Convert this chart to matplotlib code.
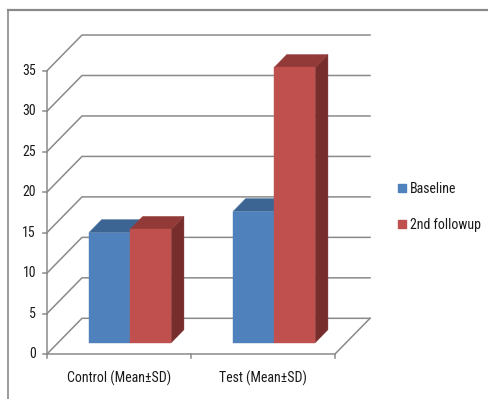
import matplotlib
matplotlib.use('Agg')
import matplotlib.pyplot as plt
from matplotlib import font_manager
from matplotlib.patches import Polygon, Patch
from matplotlib.lines import Line2D

categories = ['Control (Mean±SD)', 'Test (Mean±SD)']
series_names = ['Baseline', '2nd followup']
baseline = [13.6, 16.2]
followup = [14.0, 34.0]
y_ticks = [0, 5, 10, 15, 20, 25, 30, 35]

front_colors = ['#4f81bd', '#c0504d']
top_colors = ['#3c6594', '#923a37']
side_colors = ['#30527a', '#772d2b']
grid_color = '#8a8a8a'
text_color = '#1a1a1a'

# prefer a narrow sans; Lato at a smaller size otherwise
installed = {f.name for f in font_manager.fontManager.ttflist}
fsize = 9.2
family = 'Lato'
for name in ['Liberation Sans Narrow', 'Roboto Condensed', 'Open Sans Condensed']:
    if name in installed:
        family, fsize = name, 10.0
        break
plt.rcParams['font.family'] = [family, 'DejaVu Sans']

# oblique depth of the floor (category units, value units)
DX = 0.243
DY = 4.41
# the bars fill the middle slice of the depth
Z0, Z1 = 0.317, 0.68
GAP = 1.5  # gap between clusters, in bar widths

fig = plt.figure(figsize=(4.89, 3.99), dpi=100)
ax = fig.add_axes([0, 0, 1, 1])
# 144 px per category, ~8.1 px per value unit, origin at (47, 354) px
px_x = 144.0
px_y = 8.094
ax.set_xlim(-47 / px_x, (489 - 47) / px_x)
ax.set_ylim(-(399 - 354) / px_y, 354 / px_y)
ax.axis('off')


def proj(x, y, z):
    return (x + z * DX, y + z * DY)


n_cat = len(categories)

# walls: diagonal on the side wall, horizontal on the back wall
for t in y_ticks:
    pts = [proj(0, t, 0), proj(0, t, 1), proj(n_cat, t, 1)]
    ax.plot([p[0] for p in pts], [p[1] for p in pts], color=grid_color, lw=1.1,
            solid_joinstyle='miter', zorder=1)
    # tick mark + label
    ax.plot([-4 / px_x, 0], [t, t], color=grid_color, lw=1.1, zorder=1)
    ax.text(-11 / px_x, t, str(t), ha='right', va='center', fontsize=fsize,
            color=text_color)

# floor outline and axis lines
floor = [proj(0, 0, 0), proj(n_cat, 0, 0), proj(n_cat, 0, 1)]
ax.plot([p[0] for p in floor], [p[1] for p in floor], color=grid_color, lw=1.1,
        solid_joinstyle='miter', zorder=1)
ax.plot([0, 0], [0, y_ticks[-1]], color=grid_color, lw=1.1, zorder=1)
for i in range(n_cat + 1):
    ax.plot([i, i], [0, -4 / px_y], color=grid_color, lw=1.1, zorder=1)

# bars, drawn left to right so each side face hides behind the next bar
w = 1.0 / (2 + GAP)
for i in range(n_cat):
    for j, vals in enumerate([baseline, followup]):
        v = vals[i]
        x0 = i + GAP / 2 * w + j * w
        x1 = x0 + w
        front = [proj(x0, 0, Z0), proj(x1, 0, Z0), proj(x1, v, Z0), proj(x0, v, Z0)]
        top = [proj(x0, v, Z0), proj(x1, v, Z0), proj(x1, v, Z1), proj(x0, v, Z1)]
        side = [proj(x1, 0, Z0), proj(x1, 0, Z1), proj(x1, v, Z1), proj(x1, v, Z0)]
        for poly, col in [(side, side_colors[j]), (top, top_colors[j]),
                          (front, front_colors[j])]:
            ax.add_patch(Polygon(poly, closed=True, facecolor=col,
                                 edgecolor=col, lw=0.3, zorder=3 + i * 2 + j))

for i, name in enumerate(categories):
    ax.text(i + 0.5, -24 / px_y, name, ha='center', va='center', fontsize=fsize,
            color=text_color)

handles = [Patch(facecolor=c, edgecolor=c) for c in front_colors]
fig.legend(handles, series_names, loc='center left',
           bbox_to_anchor=(398 / 489, 1 - 207 / 399), frameon=False,
           borderpad=0, borderaxespad=0,
           handlelength=0.55, handleheight=0.55, handletextpad=0.3,
           labelspacing=1.6, fontsize=fsize, labelcolor=text_color)

# chart area border (top and left edges)
bx, by = 8 / 489, 1 - 10 / 399
fig.add_artist(Line2D([bx, 1], [by, by], color='#8a8a8a', lw=1.6))
fig.add_artist(Line2D([bx, bx], [by, 0], color='#8a8a8a', lw=1.2))

fig.savefig('out.png', dpi=100)
